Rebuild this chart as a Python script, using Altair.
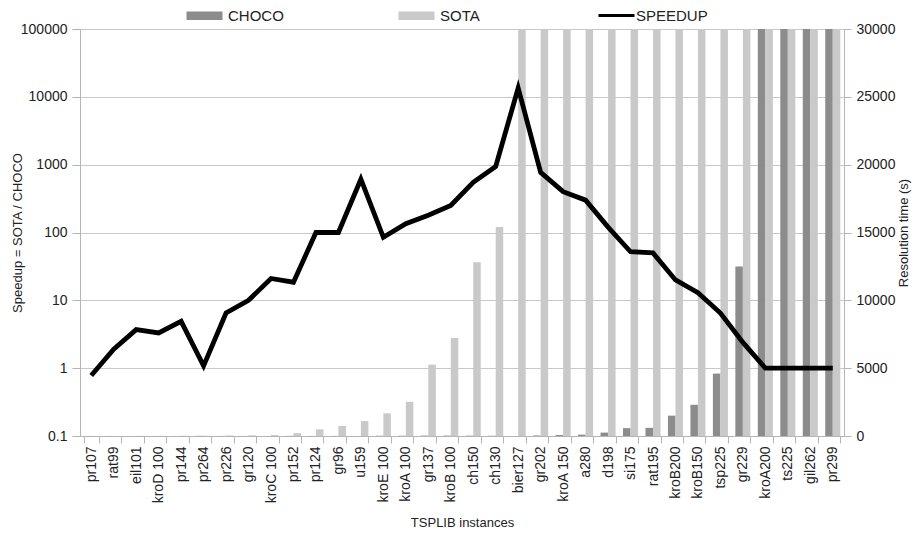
import altair as alt
import pandas as pd

instances = ["pr107", "rat99", "eil101", "kroD100", "pr144", "pr264", "pr226", "gr120",
             "kroC100", "pr152", "pr124", "gr96", "u159", "kroE100", "kroA100", "gr137",
             "kroB100", "ch150", "ch130", "bier127", "gr202", "kroA150", "a280", "d198",
             "si175", "rat195", "kroB200", "kroB150", "tsp225", "gr229", "kroA200", "ts225",
             "gil262", "pr299"]
label_text = ["pr107", "rat99", "eil101", "kroD 100", "pr144", "pr264", "pr226", "gr120",
              "kroC 100", "pr152", "pr124", "gr96", "u159", "kroE 100", "kroA 100", "gr137",
              "kroB 100", "ch150", "ch130", "bier127", "gr202", "kroA 150", "a280", "d198",
              "si175", "rat195", "kroB200", "kroB150", "tsp225", "gr229", "kroA200", "ts225",
              "gil262", "pr299"]
speedup = [0.78, 1.9, 3.7, 3.3, 4.9, 1.08, 6.5, 10, 21, 18.5, 100, 100, 610, 85, 135, 180,
           250, 550, 940, 13500, 770, 400, 300, 120, 52, 50, 20, 13, 6.5, 2.4, 1, 1, 1, 1]
choco = [6, 4, 3, 4, 4, 14, 6, 5, 3, 11, 5, 7, 2, 20, 19, 29, 29, 23, 16, 2.2, 39, 75, 100,
         250, 580, 600, 1500, 2300, 4600, 12500, 30000, 30000, 30000, 30000]
sota = [5, 8, 11, 13, 20, 15, 40, 50, 70, 210, 490, 740, 1100, 1670, 2520, 5260, 7230,
        12800, 15400, 30000, 30000, 30000, 30000, 30000, 30000, 30000, 30000, 30000, 30000,
        30000, 30000, 30000, 30000, 30000]

FONT = "Liberation Sans"
TXT = "#222222"
AXC = "#b5b5b5"

bars_df = pd.DataFrame(
    [{"instance": i, "series": "CHOCO", "time": c} for i, c in zip(instances, choco)]
    + [{"instance": i, "series": "SOTA", "time": s} for i, s in zip(instances, sota)]
)
line_df = pd.DataFrame({"instance": instances, "speedup": speedup, "name": "SPEEDUP"})

label_map = "{" + ",".join(f"'{a}':'{b}'" for a, b in zip(instances, label_text)) + "}"

x_enc = alt.X(
    "instance:N",
    sort=instances,
    title="TSPLIB instances",
    scale=alt.Scale(paddingInner=0.33, paddingOuter=0.165),
    axis=alt.Axis(
        labelAngle=-90, labelFontSize=14, labelFont=FONT, labelColor=TXT,
        titleFontSize=13, titleFont=FONT, titleFontWeight="normal", titleColor=TXT,
        titlePadding=14, tickBand="extent", tickColor=AXC, tickSize=7,
        domainColor=AXC, labelPadding=3,
        labelExpr=f"{label_map}[datum.value]",
    ),
)

bars = alt.Chart(bars_df).mark_bar().encode(
    x=x_enc,
    xOffset=alt.XOffset("series:N", sort=["CHOCO", "SOTA"], scale=alt.Scale(paddingInner=0)),
    y=alt.Y(
        "time:Q",
        scale=alt.Scale(domain=[0, 30000], nice=False),
        axis=alt.Axis(
            orient="right", title="Resolution time (s)", grid=False,
            values=[0, 5000, 10000, 15000, 20000, 25000, 30000], format="d",
            labelFontSize=14, labelFont=FONT, labelColor=TXT, labelPadding=5,
            titleFontSize=13, titleFont=FONT, titleFontWeight="normal", titleColor=TXT,
            titleAngle=270, titleBaseline="top",
            tickColor=AXC, domainColor=AXC, tickSize=7, titlePadding=3,
        ),
    ),
    color=alt.Color(
        "series:N",
        scale=alt.Scale(domain=["CHOCO", "SOTA"], range=["#8c8c8c", "#c9c9c9"]),
        legend=alt.Legend(
            orient="none", legendX=117, legendY=-21, direction="horizontal", title=None,
            symbolType="M-3,-0.7H3V0.7H-3Z", symbolSize=144, symbolStrokeWidth=0,
            labelFontSize=15, labelFont=FONT, labelColor=TXT, columnPadding=114,
            labelOffset=16, padding=0,
        ),
    ),
)

line = alt.Chart(line_df).mark_line(strokeWidth=4.8, strokeJoin="miter").encode(
    x=x_enc,
    y=alt.Y(
        "speedup:Q",
        title="Speedup = SOTA / CHOCO",
        scale=alt.Scale(type="log", domain=[0.1, 100000], nice=False),
        axis=alt.Axis(
            orient="left", grid=True, gridColor="#c8c8c8",
            values=[0.1, 1, 10, 100, 1000, 10000, 100000], format="~g",
            labelFontSize=14, labelFont=FONT, labelColor=TXT, labelPadding=5,
            titleFontSize=13, titleFont=FONT, titleFontWeight="normal", titleColor=TXT,
            tickColor=AXC, domainColor=AXC, tickSize=8, titlePadding=-4,
        ),
    ),
    stroke=alt.Stroke(
        "name:N",
        scale=alt.Scale(domain=["SPEEDUP"], range=["black"]),
        legend=alt.Legend(
            orient="none", legendX=529, legendY=-21, title=None, symbolType="M-3,0H3",
            symbolSize=144, symbolStrokeWidth=3, labelFontSize=15, labelFont=FONT,
            labelColor=TXT, labelOffset=12, padding=0,
        ),
    ),
)

chart = (
    alt.layer(bars, line)
    .resolve_scale(y="independent", color="independent", stroke="independent")
    .properties(width=764, height=407, padding={"top": 0, "left": 3, "right": 2, "bottom": 4})
    .configure_view(stroke=None)
    .configure(background="white")
)

chart.save("out.html", embed_options={"renderer": "svg", "actions": False})
